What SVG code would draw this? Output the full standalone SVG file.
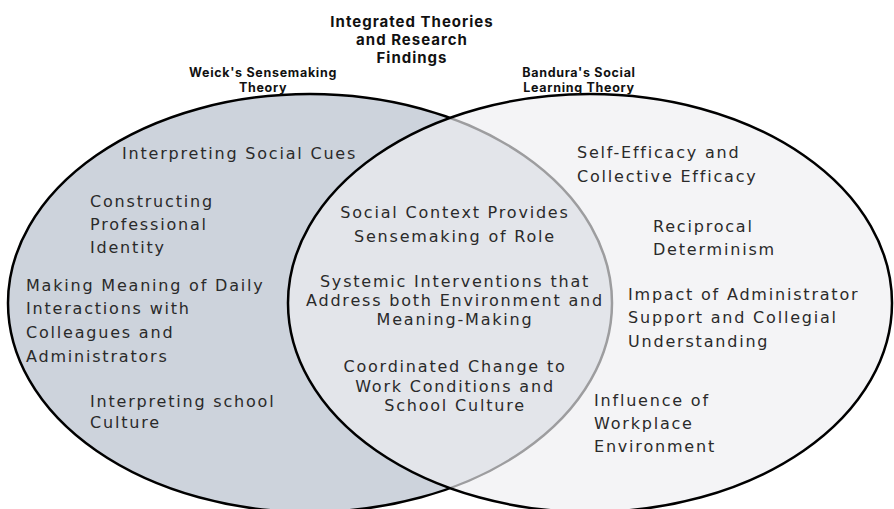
<svg xmlns="http://www.w3.org/2000/svg" width="894" height="509" viewBox="0 0 894 509">
  <style>
    .set { stroke: #000; stroke-width: 2.5; }
    .left { fill: #cdd3dc; }
    .right { fill: #eeeff2; fill-opacity: 0.66; }
    .head { font-family: Inter, "Liberation Sans", sans-serif; font-weight: 700; fill: #111; text-anchor: middle; }
    .title { font-size: 15px; letter-spacing: 1px; }
    .sub { font-size: 12.5px; letter-spacing: 0.7px; }
    .item { font-family: "DejaVu Sans", Inter, sans-serif; font-size: 16px; letter-spacing: 1.8px; fill: #2a2a2a; }
    .mid { text-anchor: middle; }
  </style>
  <rect width="894" height="509" fill="#fff"/>

  <!-- the two sets: left drawn first, right translucent on top so the overlap blends -->
  <g id="set-sensemaking">
    <ellipse class="set left" cx="310" cy="303" rx="302" ry="209"/>
  </g>
  <g id="set-social-learning">
    <ellipse class="set right" cx="590" cy="303" rx="302" ry="209"/>
  </g>

  <g id="title">
    <text class="head title" x="412" y="27">Integrated Theories</text>
    <text class="head title" x="412" y="45">and Research</text>
    <text class="head title" x="412" y="63">Findings</text>
  </g>
  <g id="label-weick">
    <text class="head sub" x="263" y="77">Weick's Sensemaking</text>
    <text class="head sub" x="263" y="92">Theory</text>
  </g>
  <g id="label-bandura">
    <text class="head sub" x="579" y="77">Bandura's Social</text>
    <text class="head sub" x="579" y="92">Learning Theory</text>
  </g>

  <!-- left-only items -->
  <g id="item-social-cues">
    <text class="item" x="122" y="159">Interpreting Social Cues</text>
  </g>
  <g id="item-professional-identity">
    <text class="item" x="90" y="207">Constructing</text>
    <text class="item" x="90" y="230">Professional</text>
    <text class="item" x="90" y="253">Identity</text>
  </g>
  <g id="item-daily-interactions">
    <text class="item" x="26" y="291">Making Meaning of Daily</text>
    <text class="item" x="26" y="314">Interactions with</text>
    <text class="item" x="26" y="338">Colleagues and</text>
    <text class="item" x="26" y="362">Administrators</text>
  </g>
  <g id="item-school-culture">
    <text class="item" x="90" y="407">Interpreting school</text>
    <text class="item" x="90" y="428">Culture</text>
  </g>

  <!-- overlap items -->
  <g id="item-social-context">
    <text class="item mid" x="455" y="218">Social Context Provides</text>
    <text class="item mid" x="455" y="242">Sensemaking of Role</text>
  </g>
  <g id="item-systemic-interventions">
    <text class="item mid" x="455" y="287">Systemic Interventions that</text>
    <text class="item mid" x="455" y="306">Address both Environment and</text>
    <text class="item mid" x="455" y="325">Meaning-Making</text>
  </g>
  <g id="item-coordinated-change">
    <text class="item mid" x="455" y="372">Coordinated Change to</text>
    <text class="item mid" x="455" y="392">Work Conditions and</text>
    <text class="item mid" x="455" y="411">School Culture</text>
  </g>

  <!-- right-only items -->
  <g id="item-efficacy">
    <text class="item" x="577" y="158">Self-Efficacy and</text>
    <text class="item" x="577" y="182">Collective Efficacy</text>
  </g>
  <g id="item-reciprocal">
    <text class="item" x="653" y="232">Reciprocal</text>
    <text class="item" x="653" y="255">Determinism</text>
  </g>
  <g id="item-administrator-support">
    <text class="item" x="628" y="300">Impact of Administrator</text>
    <text class="item" x="628" y="323">Support and Collegial</text>
    <text class="item" x="628" y="347">Understanding</text>
  </g>
  <g id="item-workplace">
    <text class="item" x="594" y="406">Influence of</text>
    <text class="item" x="594" y="429">Workplace</text>
    <text class="item" x="594" y="452">Environment</text>
  </g>
</svg>
